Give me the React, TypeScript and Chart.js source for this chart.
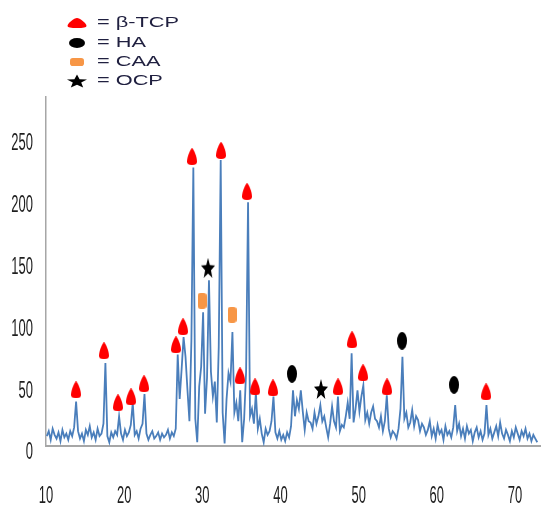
import React, { useEffect, useRef } from 'react';
import { Chart, registerables } from 'chart.js';

Chart.register(...registerables);

// 2θ grid of the diffractogram (constant step, as recorded)
const X_START = 10.1;
const X_STEP = 0.25;

// Intensity values
const intensity = [
  8, 12, 5, 14, 9, 6, 11, 4, 13, 7,
  10, 5, 12, 8, 15, 36, 12, 6, 10, 4,
  13, 9, 16, 7, 11, 5, 14, 8, 10, 18,
  67, 8, 3, 11, 7, 12, 9, 24, 10, 5,
  13, 8, 11, 17, 35, 9, 12, 6, 14, 18,
  42, 10, 5, 9, 12, 6, 8, 11, 5, 10,
  7, 9, 13, 6, 11, 8, 14, 74, 38, 62,
  88, 72, 45, 20, 85, 225, 22, 3, 48, 64,
  108, 26, 55, 134, 60, 40, 52, 19, 80, 231,
  27, 2, 38, 59, 52, 92, 27, 35, 20, 45,
  3, 22, 60, 197, 24, 30, 18, 43, 14, 22,
  10, 3, 14, 9, 12, 20, 40, 11, 6, 12,
  5, 9, 4, 11, 7, 16, 45, 24, 37, 30,
  45, 28, 13, 27, 20, 19, 14, 27, 18, 24,
  33, 20, 24, 15, 7, 18, 32, 20, 15, 40,
  12, 17, 15, 24, 35, 22, 75, 19, 30, 45,
  28, 40, 49, 21, 27, 18, 27, 32, 22, 20,
  15, 24, 12, 20, 41, 14, 7, 12, 10, 6,
  14, 30, 72, 22, 27, 15, 19, 29, 16, 24,
  21, 12, 18, 15, 9, 13, 20, 8, 14, 6,
  17, 10, 13, 5, 16, 9, 12, 7, 15, 33,
  12, 18, 8, 14, 6, 16, 10, 13, 4, 11,
  15, 7, 12, 5, 10, 33, 9, 14, 6, 11,
  16, 8, 19, 10, 6, 13, 9, 4, 12, 7,
  15, 10, 5, 12, 8, 14, 6, 10, 4, 9,
  6, 3,
];

const xTicks = [10, 20, 30, 40, 50, 60, 70];
const yTicks = [0, 50, 100, 150, 200, 250];

// Phase markers (position of each symbol)
const tcpX = [13.84, 17.42, 19.21, 20.88, 22.54, 26.63, 27.53, 28.68, 32.39, 35.72, 34.82, 36.74, 39.04, 47.36, 49.15, 50.56, 53.63, 66.3];
const tcpY = [45.3, 76.9, 34.8, 39.6, 50.2, 81.7, 96.3, 233.8, 238.7, 205.5, 56.6, 47.7, 46.9, 47.7, 85.8, 59.1, 47.7, 43.7];
const haX = [41.47, 55.55, 62.2];
const haY = [58.3, 85.0, 49.4];
const caaX = [29.96, 33.8];
const caaY = [117.3, 106.0];
const ocpX = [30.73, 45.18];
const ocpY = [144.0, 46.1];

const legendLabels = ['= β-TCP', '= HA', '= CAA', '= OCP'];
const legendTypes = ['tcp', 'ha', 'caa', 'ocp'];

function drawShape(ctx: CanvasRenderingContext2D, type: string, w: number, h: number) {
  ctx.beginPath();
  if (type === 'tcp') {
    ctx.fillStyle = '#FF0000';
    ctx.moveTo(w / 2, 0);
    ctx.bezierCurveTo(w * 0.64, 0, w, h * 0.5, w, h * 0.8);
    ctx.quadraticCurveTo(w, h, w / 2, h);
    ctx.quadraticCurveTo(0, h, 0, h * 0.8);
    ctx.bezierCurveTo(0, h * 0.5, w * 0.36, 0, w / 2, 0);
  } else if (type === 'ha') {
    ctx.fillStyle = '#000000';
    ctx.ellipse(w / 2, h / 2, w / 2, h / 2, 0, 0, Math.PI * 2);
  } else if (type === 'caa') {
    ctx.fillStyle = '#F79646';
    const r = Math.min(w, h) * 0.35;
    ctx.moveTo(r, 0);
    ctx.lineTo(w - r, 0);
    ctx.quadraticCurveTo(w, 0, w, r);
    ctx.lineTo(w, h - r);
    ctx.quadraticCurveTo(w, h, w - r, h);
    ctx.lineTo(r, h);
    ctx.quadraticCurveTo(0, h, 0, h - r);
    ctx.lineTo(0, r);
    ctx.quadraticCurveTo(0, 0, r, 0);
  } else {
    ctx.fillStyle = '#000000';
    for (let i = 0; i < 10; i++) {
      const a = -Math.PI / 2 + (i * Math.PI) / 5;
      const r = i % 2 === 0 ? 1 : 0.42;
      const px = w / 2 + (r * Math.cos(a) * (w / 2)) / 0.951;
      const py = ((r * Math.sin(a) + 1) * h) / 1.809;
      if (i === 0) ctx.moveTo(px, py);
      else ctx.lineTo(px, py);
    }
    ctx.closePath();
  }
  ctx.fill();
}

function makeMarker(type: string, w: number, h: number) {
  const c = document.createElement('canvas');
  c.width = w;
  c.height = h;
  const ctx = c.getContext('2d');
  if (ctx) drawShape(ctx, type, w, h);
  return c;
}

const textPlugin = {
  id: 'customText',
  afterDraw(chart: any) {
    const ctx = chart.ctx as CanvasRenderingContext2D;
    const xs = chart.scales.x;
    const ys = chart.scales.y;
    ctx.save();
    ctx.fillStyle = '#1e1e1e';
    ctx.font = '13px "Liberation Sans", Arial, sans-serif';
    ctx.textBaseline = 'middle';
    ctx.textAlign = 'right';
    yTicks.forEach((v) => {
      const py = ys.getPixelForValue(v) + 7;
      ctx.save();
      ctx.translate(33, py);
      ctx.scale(1, 1.8);
      ctx.fillText(String(v), 0, 0);
      ctx.restore();
    });
    ctx.textAlign = 'center';
    xTicks.forEach((v) => {
      const px = xs.getPixelForValue(v);
      ctx.save();
      ctx.translate(px, 497);
      ctx.scale(1, 1.8);
      ctx.fillText(String(v), 0, 0);
      ctx.restore();
    });
    // legend
    const legendSizes: Record<string, [number, number]> = {
      tcp: [19, 10],
      ha: [16, 10],
      caa: [14, 8],
      ocp: [20, 13],
    };
    const rowY = [23, 43, 62, 81];
    ctx.textAlign = 'left';
    ctx.font = '15px "Liberation Sans", Arial, sans-serif';
    legendTypes.forEach((t, i) => {
      const [w, h] = legendSizes[t];
      ctx.save();
      ctx.translate(77 - w / 2, rowY[i] - h / 2);
      drawShape(ctx, t, w, h);
      ctx.restore();
      ctx.save();
      ctx.fillStyle = '#202040';
      ctx.translate(97, rowY[i]);
      ctx.scale(1.45, 1);
      ctx.fillText(legendLabels[i], 0, 0);
      ctx.restore();
    });
    ctx.restore();
  },
};

export default function App() {
  const ref = useRef<HTMLCanvasElement>(null);

  useEffect(() => {
    if (!ref.current) return;
    const tcpImg = makeMarker('tcp', 10, 17);
    const haImg = makeMarker('ha', 10, 18);
    const caaImg = makeMarker('caa', 9, 16);
    const ocpImg = makeMarker('ocp', 14, 20);

    const markerSet = (xs: number[], ys: number[], img: HTMLCanvasElement) => ({
      data: xs.map((x, i) => ({ x, y: ys[i] })),
      showLine: false,
      pointStyle: img,
      pointRadius: 6,
      pointHoverRadius: 6,
      borderColor: 'transparent',
      backgroundColor: 'transparent',
      order: 0,
    });

    const chart = new Chart(ref.current, {
      type: 'line',
      data: {
        datasets: [
          {
            data: intensity.map((v, i) => ({ x: X_START + X_STEP * i, y: v })),
            borderColor: '#4A7EBB',
            borderWidth: 1.8,
            pointRadius: 0,
            fill: false,
            tension: 0,
            order: 2,
          } as any,
          markerSet(tcpX, tcpY, tcpImg),
          markerSet(haX, haY, haImg),
          markerSet(caaX, caaY, caaImg),
          markerSet(ocpX, ocpY, ocpImg),
        ],
      },
      options: {
        animation: false,
        responsive: false,
        events: [],
        layout: { padding: { left: 46, right: 9, top: 97, bottom: 60 } },
        plugins: { legend: { display: false }, tooltip: { enabled: false } },
        scales: {
          x: {
            type: 'linear',
            min: 10,
            max: 73.2,
            grid: { display: false, drawTicks: false },
            border: { display: true, color: '#A6A6A6', width: 2 },
            ticks: { display: false },
          },
          y: {
            type: 'linear',
            min: 0,
            max: 282,
            grid: { display: false, drawTicks: false },
            border: { display: true, color: '#A6A6A6', width: 1.5 },
            ticks: { display: false },
          },
        },
      },
      plugins: [textPlugin],
    });
    return () => chart.destroy();
  }, []);

  return (
    <div style={{ position: 'fixed', left: 0, top: 0, width: 549, height: 506, background: '#fff' }}>
      <canvas ref={ref} width={549} height={506} style={{ display: 'block' }} />
    </div>
  );
}
